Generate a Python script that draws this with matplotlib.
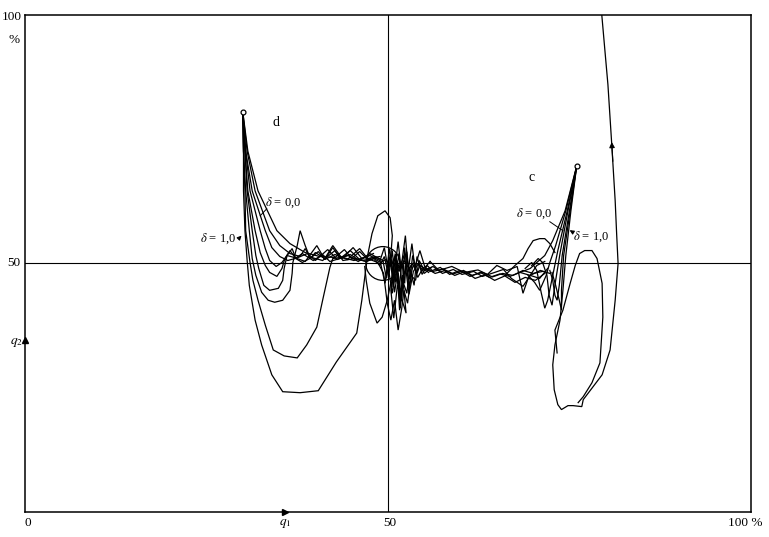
import matplotlib
matplotlib.use('Agg')
import matplotlib.pyplot as plt
from matplotlib.patches import Ellipse

plt.rcParams['font.family'] = ['Liberation Serif', 'DejaVu Serif']
plt.rcParams['mathtext.fontset'] = 'stix'

# ---- data: phase trajectories (q1, q2 in %) ----
start_d = (30.0, 80.5)
start_c = (76.0, 69.6)

# family "d" (left), from delta = 1,0 (steep, deep loop) to delta = 0,0 (smooth)
d_curves = [
    [(30.0, 80.5), (30.1, 72.6), (30.1, 64.6), (30.3, 56.6), (30.6, 50.6), (30.9, 45.6),
     (31.7, 38.6), (32.6, 33.6), (34.0, 27.6), (35.5, 24.2), (37.9, 24.0), (40.4, 24.4),
     (42.9, 30.2), (45.7, 36.0), (46.4, 42.6), (46.8, 47.2), (47.2, 51.6), (47.8, 56.0),
     (48.6, 59.6), (49.6, 60.6), (50.3, 59.2), (50.6, 55.6), (50.4, 51.6), (50.1, 48.6)],
    [(30.0, 80.5), (30.1, 72.6), (30.3, 64.6), (30.4, 56.6), (31.0, 50.2), (31.4, 46.6),
     (32.1, 42.6), (33.1, 37.6), (34.2, 32.6), (35.7, 31.4), (37.5, 31.0), (38.8, 33.6),
     (40.2, 37.2), (41.0, 42.6), (42.0, 49.2), (42.4, 51.0), (43.4, 51.2), (44.8, 51.8),
     (46.1, 50.6), (47.5, 50.8)],
    [(30.0, 80.5), (30.1, 72.6), (30.4, 64.6), (30.9, 56.6), (31.3, 51.0), (31.8, 47.6),
     (32.6, 44.2), (33.5, 42.6), (34.4, 42.2), (35.5, 42.6), (36.5, 44.6), (36.8, 48.0),
     (36.9, 50.2), (37.5, 53.6), (37.9, 56.6), (38.6, 53.6), (39.3, 51.0), (40.0, 52.2),
     (41.3, 51.0), (42.4, 53.6), (43.7, 51.0), (45.2, 53.2), (46.4, 51.0), (48.0, 52.0)],
    [(30.0, 80.5), (30.3, 72.6), (30.6, 64.6), (31.3, 56.6), (31.8, 51.6), (32.2, 49.0),
     (32.9, 45.6), (33.7, 44.6), (34.9, 45.0), (35.5, 46.6), (35.7, 49.0), (36.1, 51.6),
     (36.8, 53.0), (37.3, 51.0), (38.2, 50.2), (39.5, 51.2), (41.0, 50.6), (42.7, 52.6),
     (43.8, 50.6), (45.5, 51.0), (47.0, 50.4), (48.5, 51.2)],
    [(30.0, 80.5), (30.3, 72.6), (30.7, 64.6), (31.7, 56.6), (32.4, 52.2), (33.1, 49.6),
     (33.7, 48.2), (34.7, 47.4), (35.4, 49.0), (35.8, 51.0), (36.5, 52.6), (37.3, 51.0),
     (38.9, 52.0), (40.0, 50.6), (41.7, 52.8), (43.0, 50.8), (44.5, 51.6), (45.9, 50.4),
     (47.5, 52.0), (49.0, 50.8)],
    [(30.0, 80.5), (30.4, 72.6), (31.0, 64.6), (32.4, 56.6), (33.1, 53.0), (33.7, 50.6),
     (34.6, 49.4), (35.4, 50.2), (36.1, 51.6), (37.1, 51.2), (38.6, 50.4), (40.2, 53.6),
     (41.3, 50.8), (42.7, 51.8), (44.4, 50.8), (46.1, 53.0), (47.2, 51.0), (48.9, 51.4)],
    [(30.0, 80.5), (30.4, 72.6), (31.3, 64.6), (33.1, 56.6), (34.0, 53.2), (35.1, 51.4),
     (36.2, 50.6), (37.2, 51.0), (38.2, 52.0), (39.7, 50.6), (41.0, 51.8), (42.0, 50.4),
     (43.8, 51.2), (45.3, 50.6), (46.8, 51.2), (48.6, 50.2)],
    [(30.0, 80.5), (30.6, 72.6), (31.7, 64.6), (33.7, 56.6), (35.1, 53.6), (36.5, 52.0),
     (37.9, 51.4), (38.6, 53.0), (39.3, 51.0), (40.4, 52.4), (41.3, 50.8), (42.4, 53.2),
     (43.4, 51.0), (44.8, 52.6), (46.1, 50.8), (47.5, 51.6), (48.9, 50.6)],
    [(30.0, 80.5), (30.7, 72.6), (32.1, 64.6), (34.7, 56.6), (36.5, 54.0), (38.6, 52.2),
     (40.6, 51.4), (42.7, 51.2), (44.0, 52.8), (45.0, 51.0), (46.1, 52.4), (47.2, 50.8),
     (48.2, 51.4), (49.3, 50.6)],
]

# tangle around the centre (50, 50)
centre_curves = [
    [(50.1, 48.6), (50.6, 44.0), (51.2, 50.2), (51.7, 41.0), (52.0, 47.6), (52.5, 40.0),
     (51.3, 45.6), (50.8, 39.0), (50.4, 44.6), (51.0, 52.0), (51.9, 43.0), (52.3, 53.2),
     (52.9, 45.0), (53.4, 51.6), (54.0, 48.0), (54.4, 49.6)],
    [(48.9, 50.6), (49.6, 46.0), (50.2, 53.0), (50.8, 47.0), (51.4, 54.4), (51.8, 49.0),
     (52.4, 55.6), (52.8, 48.6), (53.3, 54.0), (53.7, 49.2), (54.4, 52.6), (55.1, 49.2),
     (55.8, 50.4)],
    [(48.6, 50.2), (49.4, 48.0), (49.9, 42.0), (50.4, 38.6), (50.9, 42.6), (51.4, 36.6),
     (51.9, 41.0), (52.2, 44.6), (52.7, 42.0), (53.2, 47.6), (53.8, 46.6), (54.3, 50.6),
     (55.0, 48.6)],
    [(46.8, 49.4), (47.0, 46.6), (47.5, 42.0), (48.5, 38.0), (49.2, 39.2), (49.9, 42.6),
     (50.6, 47.6), (51.1, 51.0), (51.6, 49.0), (52.2, 51.6), (52.7, 48.2), (53.3, 50.0)],
    [(49.3, 50.6), (49.8, 47.0), (50.3, 51.8), (50.7, 45.2), (51.1, 49.6), (51.5, 43.8),
     (51.9, 50.4), (52.3, 46.0), (52.6, 52.4), (53.0, 46.8), (53.5, 49.8), (54.1, 47.2),
     (54.8, 49.0), (55.6, 48.2)],
    [(49.0, 51.0), (49.5, 53.2), (50.0, 49.0), (50.5, 50.8), (50.9, 44.2), (51.3, 47.8),
     (51.6, 40.6), (52.1, 46.2), (52.6, 44.0), (53.0, 49.2), (53.6, 45.6), (54.0, 51.4),
     (54.7, 47.8), (55.4, 49.6), (56.2, 48.4)],
    [(48.2, 50.6), (48.9, 49.6), (49.5, 51.4), (50.1, 47.4), (50.6, 52.6), (51.0, 46.2),
     (51.5, 52.0), (52.0, 44.8), (52.4, 49.6), (52.9, 43.8), (53.5, 48.4), (54.2, 50.0),
     (55.0, 48.0), (56.0, 49.2)],
    [(46.0, 50.8), (47.0, 50.4), (48.0, 51.0), (49.0, 50.2), (49.7, 50.8), (50.4, 49.4),
     (51.0, 51.6), (51.6, 48.4), (52.2, 50.6), (52.9, 49.0), (53.6, 50.2)],
]

# band between the centre and family "c"
band_curves = [
    [(54.4, 49.6), (55.8, 48.4), (57.2, 49.2), (58.5, 47.8), (59.9, 48.6), (61.3, 47.4),
     (62.7, 48.2), (64.0, 47.2), (65.4, 47.9), (66.8, 47.4), (68.2, 48.2), (69.6, 47.6),
     (71.0, 48.6), (72.3, 48.0)],
    [(55.1, 49.2), (56.5, 48.0), (57.9, 48.6), (59.2, 47.6), (60.6, 48.4), (62.0, 47.0),
     (63.4, 47.7), (64.7, 46.6), (66.1, 47.5), (67.5, 46.2), (68.9, 47.2), (70.3, 46.6),
     (71.6, 48.0)],
    [(55.0, 48.6), (56.2, 49.4), (57.5, 48.0), (59.0, 48.8), (60.2, 47.8), (61.8, 48.4),
     (63.0, 47.4), (64.5, 48.1), (65.9, 48.8), (67.0, 47.0), (68.6, 45.4), (69.6, 47.6),
     (70.9, 47.0), (72.0, 49.0)],
    [(55.8, 50.4), (57.0, 48.6), (58.8, 49.4), (60.5, 48.2), (62.4, 48.7), (63.7, 47.8),
     (65.0, 49.6), (66.4, 48.6), (67.8, 49.4), (68.6, 44.0), (69.3, 47.0), (70.5, 49.6),
     (71.6, 50.4)],
    [(56.2, 48.4), (57.6, 48.9), (59.0, 47.9), (60.4, 48.6), (61.6, 47.6), (63.0, 48.2),
     (64.4, 47.3), (65.8, 48.0), (67.2, 47.6), (68.6, 48.6), (70.0, 48.0), (71.3, 48.4)],
    [(66.1, 47.6), (67.5, 49.6), (68.6, 51.0), (69.3, 53.0), (70.0, 54.6), (70.9, 55.0),
     (71.6, 55.0), (72.3, 54.0), (73.0, 52.2)],
]

# family "c" (right), delta = 0,0 (left) to delta = 1,0 (right, runs out of the frame)
c_curves = [
    [(76.0, 69.6), (74.4, 60.6), (72.7, 54.6), (71.6, 51.6), (70.5, 50.2), (69.6, 49.0),
     (68.2, 48.2)],
    [(76.0, 69.6), (74.5, 60.6), (73.1, 53.6), (72.3, 50.2), (71.8, 47.6), (70.9, 44.6),
     (70.2, 46.2), (69.3, 47.6)],
    [(76.0, 69.6), (74.7, 60.6), (73.4, 52.6), (72.7, 47.6), (72.0, 42.6), (71.6, 41.0),
     (71.1, 44.2), (70.5, 48.6), (69.8, 50.2), (68.9, 49.0)],
    [(76.0, 69.6), (74.8, 60.6), (73.7, 52.0), (73.1, 46.6), (72.6, 41.6), (72.2, 43.6),
     (71.9, 47.6), (71.3, 50.2), (70.7, 51.0), (69.8, 49.6)],
    [(76.0, 69.6), (75.0, 60.6), (74.0, 51.6), (73.6, 45.6), (73.3, 42.6), (73.0, 43.6),
     (72.7, 46.6), (72.3, 48.6)],
    [(76.0, 69.6), (75.1, 60.6), (74.2, 51.6), (73.9, 44.6), (73.9, 40.6), (73.6, 42.6),
     (73.1, 45.6), (72.6, 48.2)],
    [(76.0, 69.6), (75.2, 60.6), (74.5, 51.6), (74.1, 44.6), (73.7, 38.6), (73.0, 33.6),
     (72.7, 29.6), (72.9, 24.6), (73.4, 21.6), (73.9, 20.6), (74.8, 21.4), (75.5, 21.4),
     (76.7, 21.2), (76.9, 22.6), (79.5, 27.6), (80.6, 32.6), (81.3, 42.6), (81.7, 50.0),
     (81.5, 56.0), (81.3, 62.6), (80.8, 74.6), (80.3, 86.0), (79.9, 92.6), (79.3, 102.6)],
    [(73.3, 32.0), (73.0, 36.6), (74.1, 40.6), (75.1, 46.0), (75.8, 49.6), (76.4, 52.0),
     (77.1, 52.6), (78.1, 52.6), (78.8, 51.0), (79.5, 46.0), (79.6, 39.2), (79.2, 30.0),
     (78.1, 26.0), (76.9, 23.2), (76.2, 22.0)],
]

circle_centre = (49.3, 50.0)
circle_size = (4.7, 6.8)
up_arrow = ((81.0, 70.0), (80.8, 75.0))
q1_arrow_x = 35.8
q2_arrow_y = 34.6

fig = plt.figure(figsize=(7.69, 5.37), dpi=100)
fig.patch.set_facecolor('white')
ax = fig.add_axes([0.0325, 0.0466, 0.944, 0.9255])
ax.set_xlim(0, 100)
ax.set_ylim(0, 100)
ax.set_xticks([])
ax.set_yticks([])
for s in ax.spines.values():
    s.set_linewidth(1.1)
    s.set_color('black')

ax.axvline(50, color='black', lw=0.8)
ax.axhline(50, color='black', lw=0.8)

for group in (d_curves, centre_curves, band_curves, c_curves):
    for pts in group:
        xs = [p[0] for p in pts]
        ys = [p[1] for p in pts]
        ax.plot(xs, ys, color='black', lw=0.9, solid_joinstyle='miter')

ax.add_patch(Ellipse(circle_centre, circle_size[0], circle_size[1],
                     fill=False, ec='black', lw=0.9))

for sx, sy in (start_d, start_c):
    ax.plot([sx], [sy], 'o', ms=3.5, mfc='white', mec='black', mew=0.9, zorder=5)

ax.annotate('', xy=up_arrow[1], xytext=up_arrow[0],
            arrowprops=dict(arrowstyle='-|>', color='black', lw=0.8,
                            mutation_scale=8))

# axis arrows
ax.plot([q1_arrow_x], [0], marker='>', ms=4, color='black', clip_on=False)
ax.plot([0], [q2_arrow_y], marker='^', ms=4, color='black', clip_on=False)

# curve labels
ax.text(34.6, 78.4, 'd', fontsize=10, ha='center', va='center')
ax.text(69.8, 67.4, 'c', fontsize=10, ha='center', va='center')
lab = dict(fontsize=9, ha='center', va='center')
ax.text(35.5, 62.2, r'$\delta$ = 0,0', **lab)
ax.text(26.6, 55.0, r'$\delta$ = 1,0', **lab)
ax.text(70.1, 60.0, r'$\delta$ = 0,0', **lab)
ax.text(78.0, 55.4, r'$\delta$ = 1,0', **lab)
ax.plot([33.3, 32.4], [61.0, 59.6], color='black', lw=0.7)
ax.annotate('', xy=(30.1, 56.0), xytext=(29.3, 54.8),
            arrowprops=dict(arrowstyle='-|>', color='black', lw=0.8, mutation_scale=6))
ax.plot([72.3, 74.1], [58.4, 56.6], color='black', lw=0.7)
ax.annotate('', xy=(74.7, 57.0), xytext=(75.8, 56.0),
            arrowprops=dict(arrowstyle='-|>', color='black', lw=0.8, mutation_scale=6))

# axis annotations
kw = dict(fontsize=9.5, ha='center', va='center', clip_on=False)
ax.text(-1.8, 99.6, '100', **kw)
ax.text(-1.5, 95.0, '%', **kw)
ax.text(-1.5, 50.0, '50', **kw)
ax.text(-1.2, 34.0, r'$q_2$', **kw)
ax.text(0.4, -2.2, '0', **kw)
ax.text(q1_arrow_x, -2.4, r'$q_1$', **kw)
ax.text(50.3, -2.2, '50', **kw)
ax.text(99.2, -2.2, '100 %', **kw)

fig.savefig('out.png', dpi=100, facecolor='white')
